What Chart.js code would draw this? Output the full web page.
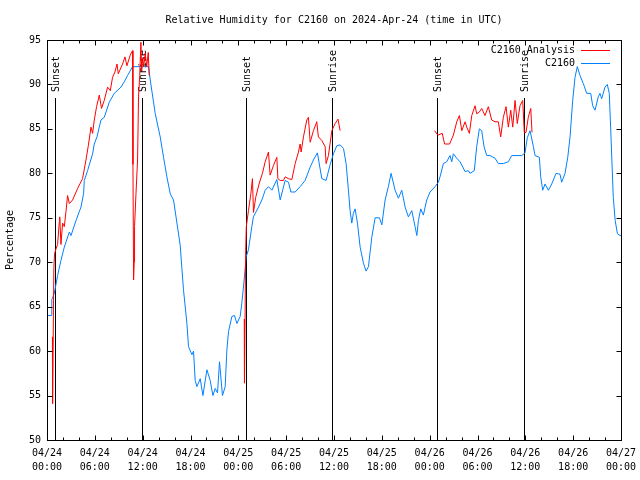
<!DOCTYPE html>
<html>
<head>
<meta charset="utf-8">
<script src="https://cdn.jsdelivr.net/npm/chart.js@4"></script>
<style>
  body { margin: 0; background: #fff; }
</style>
</head>
<body>
<canvas id="rhChart" width="640" height="480"></canvas>
<script>
// hours since 04/24 00:00 UTC, relative humidity %
const stationHumidity = [
  [0, 64.0], [0.54, 64.0], [0.6, 65.8], [0.92, 66.5], [1.33, 68.5], [1.75, 70.2], [2.17, 71.7], [2.8, 73.4],
  [3.01, 73.0], [3.64, 74.7], [4.26, 76.2], [4.59, 77.7], [4.68, 79.2], [5.09, 80.3], [5.72, 82.2], [5.93, 83.3],
  [6.27, 84.1], [6.77, 86.0], [7.18, 86.3], [7.81, 88.0], [8.44, 89.0], [9.28, 89.7], [9.69, 90.3], [10.1, 91.0],
  [10.73, 92.0], [12.74, 92.0], [12.95, 90.5], [13.58, 86.7], [14.2, 84.1], [14.62, 81.8], [15.04, 79.6],
  [15.46, 77.7], [15.87, 77.0], [16.3, 74.4], [16.71, 71.9], [16.92, 69.3], [17.12, 66.9], [17.55, 63.1],
  [17.75, 60.5], [18.18, 59.6], [18.38, 60.0], [18.59, 56.7], [18.8, 56.0], [19.22, 56.9], [19.56, 55.0],
  [20.06, 57.9], [20.47, 56.7], [20.81, 55.0], [21.1, 55.8], [21.39, 55.3], [21.64, 58.8], [22.01, 55.0],
  [22.35, 56.0], [22.56, 60.1], [22.77, 62.2], [23.19, 63.9], [23.52, 64.0], [23.82, 63.1], [24.23, 63.9],
  [24.44, 65.4], [24.73, 68.0], [24.98, 70.6], [25.27, 71.4], [25.69, 74.0], [25.89, 75.1], [26.53, 76.2],
  [26.95, 77.0], [27.37, 78.1], [27.78, 78.5], [28.21, 78.1], [28.83, 79.3], [29.25, 77.0], [29.87, 79.2],
  [30.29, 79.0], [30.59, 77.9], [31.13, 77.9], [31.75, 78.5], [32.38, 79.2], [33.01, 80.7], [33.42, 81.5],
  [33.92, 82.3], [34.47, 79.4], [35.01, 79.2], [35.52, 81.0], [35.93, 82.2], [36.35, 83.1], [36.77, 83.2],
  [37.19, 82.8], [37.52, 81.1], [37.81, 78.1], [38.02, 75.8], [38.23, 74.4], [38.43, 75.5], [38.65, 76.0],
  [38.94, 74.4], [39.28, 71.7], [39.69, 69.9], [40.03, 69.0], [40.32, 69.5], [40.74, 72.8], [41.16, 75.0],
  [41.7, 75.0], [42.0, 74.2], [42.41, 77.0], [42.82, 78.5], [43.16, 80.0], [43.66, 78.1], [44.08, 77.2],
  [44.5, 78.1], [44.92, 76.2], [45.33, 75.1], [45.76, 75.8], [46.17, 74.0], [46.39, 73.0], [46.59, 74.7],
  [46.88, 76.0], [47.21, 75.3], [47.63, 77.0], [48.05, 77.9], [48.67, 78.5], [49.09, 79.0], [49.3, 79.6],
  [49.72, 81.1], [50.14, 81.3], [50.55, 82.0], [50.77, 81.3], [50.97, 82.2], [51.4, 81.7], [51.81, 81.3],
  [52.44, 80.2], [52.85, 80.3], [53.06, 80.0], [53.6, 80.3], [53.9, 83.0], [54.23, 85.0], [54.53, 84.8],
  [54.82, 83.0], [55.16, 82.0], [55.57, 82.0], [56.2, 81.7], [56.61, 81.1], [57.24, 81.1], [57.87, 81.3],
  [58.3, 82.0], [59.55, 82.0], [59.96, 82.3], [60.25, 84.0], [60.59, 84.8], [61.01, 83.0], [61.22, 82.0],
  [61.76, 81.8], [61.93, 79.6], [62.18, 78.1], [62.47, 78.8], [62.89, 78.1], [63.31, 78.8], [63.85, 80.0],
  [64.35, 79.9], [64.56, 79.0], [64.98, 80.0], [65.32, 81.8], [65.61, 84.1], [65.94, 88.2], [66.23, 90.8],
  [66.52, 92.0], [66.86, 91.0], [67.27, 90.1], [67.7, 89.0], [68.2, 89.0], [68.45, 87.6], [68.74, 87.1],
  [69.15, 88.6], [69.36, 89.0], [69.58, 88.4], [69.99, 89.7], [70.28, 90.0], [70.53, 89.0], [70.7, 85.2],
  [71.03, 77.3], [71.27, 74.7], [71.55, 73.2], [71.89, 73.0], [72, 73.0]
];

// analysis only exists during the night runs, null = gap
const analysisHumidity = [
  [0.68, 61.6], [0.7, 54.1], [0.86, 69.3], [0.95, 71.0], [1.13, 71.5], [1.33, 72.0], [1.54, 74.5], [1.6, 75.1],
  [1.75, 72.0], [1.96, 74.4], [2.17, 74.0], [2.38, 75.7], [2.58, 77.5], [2.8, 76.6], [3.21, 77.0], [3.84, 78.3],
  [4.46, 79.4], [4.89, 81.5], [5.18, 83.1], [5.52, 85.2], [5.72, 84.5], [5.93, 86.0], [6.22, 87.5], [6.56, 88.8],
  [6.84, 87.3], [7.18, 88.2], [7.6, 89.7], [7.94, 89.3], [8.22, 90.8], [8.52, 91.4], [8.78, 92.3], [8.94, 91.2],
  [9.48, 92.3], [9.78, 93.1], [10.03, 92.1], [10.44, 93.3], [10.73, 93.8], [10.78, 81.0], [10.86, 68.0],
  [10.94, 70.0], [10.98, 74.0], [11.16, 77.7], [11.36, 81.5], [11.48, 88.6], [11.63, 91.0], [11.78, 94.75],
  [11.88, 91.5], [12.01, 93.0], [12.13, 92.0], [12.32, 93.5], [12.51, 92.0], [12.7, 93.6], [12.82, 91.0],
  [13, null],
  [24.75, 63.6], [24.77, 56.4], [24.92, 71.3], [25.0, 74.0], [25.27, 75.8], [25.57, 77.7], [25.77, 79.4],
  [25.9, 75.6], [26.18, 77.3], [26.6, 78.8], [27.02, 80.0], [27.37, 81.3], [27.78, 82.4], [27.99, 79.8],
  [28.41, 80.9], [28.83, 81.8], [28.96, 79.4], [29.25, 79.2], [29.66, 79.2], [29.87, 79.6], [30.29, 79.4],
  [30.71, 79.3], [31.13, 81.1], [31.54, 82.4], [31.75, 83.3], [31.88, 82.4], [32.17, 84.1], [32.59, 86.0],
  [32.79, 86.3], [33.01, 83.5], [33.42, 84.8], [33.84, 85.8], [34.04, 84.1], [34.47, 83.7], [34.89, 83.0],
  [35.01, 81.1], [35.3, 82.0], [35.73, 84.8], [36.14, 85.6], [36.5, 86.1], [36.77, 84.8],
  [37, null],
  [48.61, 84.8], [49.03, 84.3], [49.58, 84.5], [49.87, 83.3], [50.5, 83.3], [50.97, 84.3], [51.4, 85.8],
  [51.73, 86.5], [52.03, 84.8], [52.44, 85.8], [52.65, 85.2], [52.98, 84.5], [53.28, 86.5], [53.69, 87.6],
  [53.9, 86.7], [54.23, 86.9], [54.53, 87.3], [54.94, 86.5], [55.36, 87.5], [55.78, 86.0], [56.2, 85.8],
  [56.61, 85.8], [56.91, 84.1], [57.24, 86.3], [57.58, 87.5], [57.87, 85.2], [58.17, 87.1], [58.42, 85.2],
  [58.71, 88.2], [58.99, 85.6], [59.33, 87.6], [59.67, 88.2], [59.87, 84.6], [60.08, 84.6], [60.37, 86.3],
  [60.68, 87.3], [60.84, 84.6]
];

const sunHours = [0.95, 11.91, 25.02, 35.8, 48.97, 59.87];
const sunLabels = ['Sunset', 'Sunrise', 'Sunset', 'Sunrise', 'Sunset', 'Sunrise'];
const dayLabels = ['04/24', '04/25', '04/26', '04/27'];
const seriesNames = ['C2160 Analysis', 'C2160'];
const seriesColors = ['#ff0000', '#0080ff'];

const FONT = { family: 'DejaVu Sans Mono', size: 10, weight: 'normal' };

const toPoints = arr => arr.map(p => ({ x: p[0], y: p[1] }));

// sunrise / sunset markers behind the data
const sunLines = {
  id: 'sunLines',
  beforeDatasetsDraw(chart) {
    const { ctx, chartArea: a, scales: { x } } = chart;
    ctx.save();
    ctx.strokeStyle = '#000';
    ctx.lineWidth = 1;
    ctx.fillStyle = '#000';
    ctx.font = '10px "DejaVu Sans Mono"';
    sunHours.forEach((h, i) => {
      const px = Math.round(x.getPixelForValue(h)) + 0.5;
      const top = a.bottom - (a.bottom - a.top) * 0.855;
      ctx.beginPath();
      ctx.moveTo(px, top);
      ctx.lineTo(px, a.bottom);
      ctx.stroke();
      ctx.save();
      ctx.translate(px + 1, top - 6);
      ctx.rotate(-Math.PI / 2);
      ctx.textAlign = 'left';
      ctx.textBaseline = 'middle';
      ctx.fillText(sunLabels[i], 0, 0);
      ctx.restore();
    });
    ctx.restore();
  }
};

// gnuplot style border, inward tics and legend
const frame = {
  id: 'frame',
  afterDatasetsDraw(chart) {
    const { ctx, chartArea: a, scales: { x, y } } = chart;
    ctx.save();
    ctx.strokeStyle = '#000';
    ctx.lineWidth = 1;
    const L = Math.round(a.left) + 0.5, R = Math.round(a.right) + 0.5;
    const T = Math.round(a.top) + 0.5, B = Math.round(a.bottom) + 0.5;
    ctx.beginPath();
    for (let h = 0; h <= 72; h += 2) {
      const px = Math.round(x.getPixelForValue(h)) + 0.5;
      const len = h % 6 === 0 ? 5 : 3;
      ctx.moveTo(px, B); ctx.lineTo(px, B - len);
      ctx.moveTo(px, T); ctx.lineTo(px, T + len);
    }
    for (let v = 50; v <= 95; v += 5) {
      const py = Math.round(y.getPixelForValue(v)) + 0.5;
      ctx.moveTo(L, py); ctx.lineTo(L + 5, py);
      ctx.moveTo(R, py); ctx.lineTo(R - 5, py);
    }
    ctx.stroke();
    ctx.strokeRect(L, T, R - L, B - T);

    ctx.font = '10px "DejaVu Sans Mono"';
    ctx.fillStyle = '#000';
    ctx.textAlign = 'right';
    ctx.textBaseline = 'middle';
    seriesNames.forEach((name, i) => {
      const ly = Math.round(a.top + 10 + i * 13) + 0.5;
      ctx.fillText(name, a.right - 46, ly);
      ctx.strokeStyle = seriesColors[i];
      ctx.beginPath();
      ctx.moveTo(a.right - 40, ly);
      ctx.lineTo(a.right - 11, ly);
      ctx.stroke();
    });
    ctx.restore();
  }
};

new Chart(document.getElementById('rhChart'), {
  type: 'line',
  data: {
    datasets: [{
      label: seriesNames[0],
      data: toPoints(analysisHumidity),
      borderColor: seriesColors[0],
      borderWidth: 1,
      pointRadius: 0,
      tension: 0,
      spanGaps: false
    }, {
      label: seriesNames[1],
      data: toPoints(stationHumidity),
      borderColor: seriesColors[1],
      borderWidth: 1,
      pointRadius: 0,
      tension: 0
    }]
  },
  options: {
    responsive: false,
    animation: false,
    layout: { padding: { left: 0, right: 19, top: 0, bottom: 0 } },
    plugins: {
      legend: { display: false },
      tooltip: { enabled: false },
      title: {
        display: true,
        fullSize: false,
        text: 'Relative Humidity for C2160 on 2024-Apr-24 (time in UTC)',
        color: '#000',
        font: FONT,
        padding: { top: 14, bottom: 14 }
      }
    },
    scales: {
      x: {
        type: 'linear',
        min: 0,
        max: 72,
        afterFit: s => { s.height = 40; s.paddingLeft = 0; s.paddingRight = 0; },
        grid: { display: false, drawTicks: false },
        border: { display: false },
        ticks: {
          stepSize: 6,
          autoSkip: false,
          maxRotation: 0,
          padding: 7,
          color: '#000',
          font: { ...FONT, lineHeight: 1.35 },
          callback: v => [dayLabels[Math.floor(v / 24)], String(v % 24).padStart(2, '0') + ':00']
        }
      },
      y: {
        min: 50,
        max: 95,
        afterFit: s => { s.width = 47; },
        grid: { display: false, drawTicks: false },
        border: { display: false },
        ticks: { stepSize: 5, padding: 6, color: '#000', font: FONT },
        title: {
          display: true,
          text: 'Percentage',
          color: '#000',
          font: FONT,
          padding: { top: 4, bottom: 0 }
        }
      }
    }
  },
  plugins: [sunLines, frame]
});
</script>
</body>
</html>
